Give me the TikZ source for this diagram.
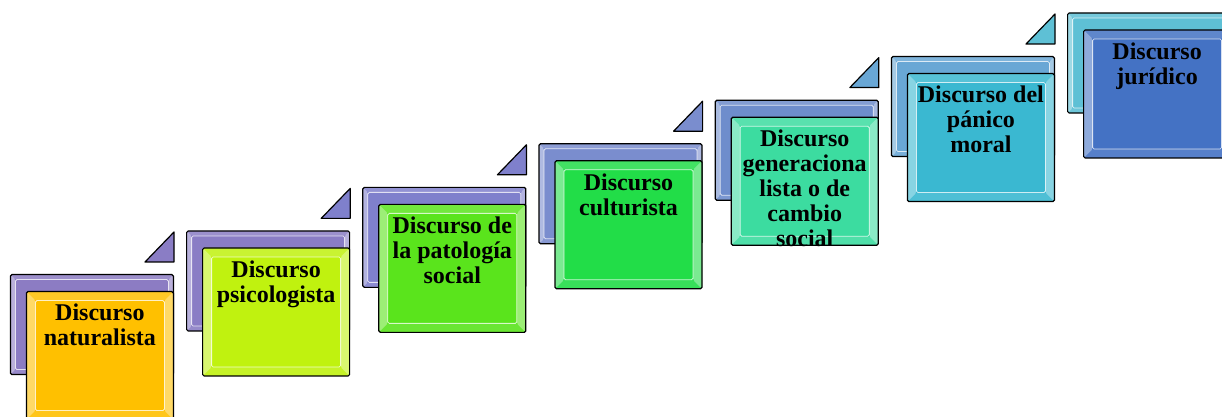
\documentclass[tikz,border=0pt]{standalone}
\usepackage{fontspec}
\setmainfont{Liberation Serif}

\definecolor{frontA}{HTML}{FFC000}
\definecolor{frontB}{HTML}{C0F20F}
\definecolor{frontC}{HTML}{5AE41C}
\definecolor{frontD}{HTML}{22DD48}
\definecolor{frontE}{HTML}{3CDCA0}
\definecolor{frontF}{HTML}{3AB8D1}
\definecolor{frontG}{HTML}{4472C4}
\definecolor{backA}{HTML}{8C7CC3}
\definecolor{backB}{HTML}{8A7DC5}
\definecolor{backC}{HTML}{7F80CC}
\definecolor{backD}{HTML}{7A8DCE}
\definecolor{backE}{HTML}{6E8DCC}
\definecolor{backF}{HTML}{69A7D5}
\definecolor{backG}{HTML}{5EC0D5}

\begin{document}
\begin{tikzpicture}[x=1pt,y=1pt,
    bevel/.style={path picture={
        \fill[white,opacity=.4] (path picture bounding box.south west) -- (path picture bounding box.north west)
            -- ([shift={(#1,-#1)}]path picture bounding box.north west) -- ([shift={(#1,#1)}]path picture bounding box.south west) -- cycle;
        \fill[white,opacity=.4] (path picture bounding box.south east) -- (path picture bounding box.north east)
            -- ([shift={(-#1,-#1)}]path picture bounding box.north east) -- ([shift={(-#1,#1)}]path picture bounding box.south east) -- cycle;
        \fill[white,opacity=.15] (path picture bounding box.north west) -- (path picture bounding box.north east)
            -- ([shift={(-#1,-#1)}]path picture bounding box.north east) -- ([shift={(#1,-#1)}]path picture bounding box.north west) -- cycle;
        \fill[white,opacity=.1] (path picture bounding box.south west) -- (path picture bounding box.south east)
            -- ([shift={(-#1,#1)}]path picture bounding box.south east) -- ([shift={(#1,#1)}]path picture bounding box.south west) -- cycle;
        \draw[white,opacity=.75,line width=.8pt] ([shift={(#1,#1)}]path picture bounding box.south west)
            rectangle ([shift={(-#1,-#1)}]path picture bounding box.north east);
    }},
    frontbox/.style={draw=black, line width=1.2pt, rounded corners=1.5pt, minimum width=147pt,
        minimum height=128pt, inner sep=0pt, anchor=north east, bevel=9pt},
    backbox/.style={draw=black, line width=1.2pt, rounded corners=1.5pt, minimum width=163pt,
        minimum height=100pt, inner sep=0pt, anchor=north east, bevel=5pt},
    cornertri/.style={draw=black, line width=1.2pt, line join=round},
    steptext/.style={anchor=north, align=center, inner sep=0pt,
        font=\fontsize{24}{25}\selectfont\bfseries}]

    \useasboundingbox[fill=white] (0,0) rectangle (1222,417);

    \node[backbox, fill=backA] (b1) at (174,143) {};
    \node[frontbox, fill=frontA] (f1) at ([yshift=-17]b1.north east) {};
    \node[steptext] (t1) at ([yshift=-13]f1.north) {Discurso\\naturalista};
    \draw[cornertri, fill=backB] ([yshift=29]f1.north east) -- ++(0,30) -- ++(-29,-30) -- cycle;

    \node[backbox, fill=backB] (b2) at (350.2,186.6) {};
    \node[frontbox, fill=frontB] (f2) at ([yshift=-17]b2.north east) {};
    \node[steptext] (t2) at ([yshift=-13]f2.north) {Discurso\\psicologista};
    \draw[cornertri, fill=backC] ([yshift=29]f2.north east) -- ++(0,30) -- ++(-29,-30) -- cycle;

    \node[backbox, fill=backC] (b3) at (526.4,230.2) {};
    \node[frontbox, fill=frontC] (f3) at ([yshift=-17]b3.north east) {};
    \node[steptext] (t3) at ([yshift=-13]f3.north) {Discurso de\\la patología\\social};
    \draw[cornertri, fill=backC] ([yshift=29]f3.north east) -- ++(0,30) -- ++(-29,-30) -- cycle;

    \node[backbox, fill=backD] (b4) at (702.6,273.8) {};
    \node[frontbox, fill=frontD] (f4) at ([yshift=-17]b4.north east) {};
    \node[steptext] (t4) at ([yshift=-13]f4.north) {Discurso\\culturista};
    \draw[cornertri, fill=backD] ([yshift=29]f4.north east) -- ++(0,30) -- ++(-29,-30) -- cycle;

    \node[backbox, fill=backE] (b5) at (878.8,317.4) {};
    \node[frontbox, fill=frontE] (f5) at ([yshift=-17]b5.north east) {};
    \node[steptext] (t5) at ([yshift=-13]f5.north) {Discurso\\generaciona\\lista o de\\cambio\\social};
    \draw[cornertri, fill=backF] ([yshift=29]f5.north east) -- ++(0,30) -- ++(-29,-30) -- cycle;

    \node[backbox, fill=backF] (b6) at (1055,361) {};
    \node[frontbox, fill=frontF] (f6) at ([yshift=-17]b6.north east) {};
    \node[steptext] (t6) at ([yshift=-13]f6.north) {Discurso del\\pánico\\moral};
    \draw[cornertri, fill=backG] ([yshift=29]f6.north east) -- ++(0,30) -- ++(-29,-30) -- cycle;

    \node[backbox, fill=backG] (b7) at (1231.2,404.6) {};
    \node[frontbox, fill=frontG] (f7) at ([yshift=-17]b7.north east) {};
    \node[steptext] (t7) at ([yshift=-13]f7.north) {Discurso\\jurídico};
\end{tikzpicture}
\end{document}
